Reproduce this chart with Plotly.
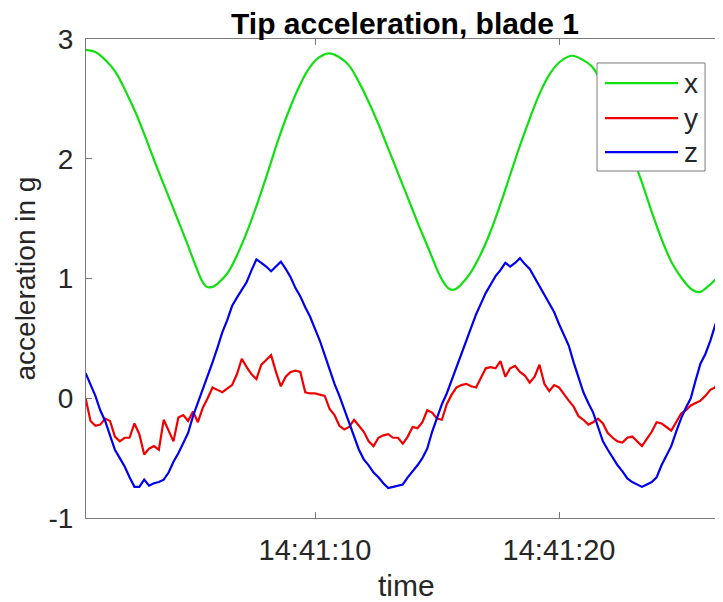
import pandas as pd
import plotly.graph_objects as go

# ---------------- data (seconds after 14:41:00) ----------------
base_time = "2018-01-01 14:41:00"

x_t = [0.61, 1.02, 1.43, 1.84, 2.25, 2.66, 3.07, 3.48, 3.89, 4.30, 4.71, 5.12, 5.37, 5.57, 5.80,
       6.02, 6.43, 6.84, 7.25, 7.66, 8.07, 8.48, 8.89, 9.30, 9.71, 10.12, 10.57,
       10.98, 11.39, 11.80, 12.21, 12.62, 13.03, 13.44, 13.85, 14.26, 14.67, 15.08, 15.33, 15.53, 15.75,
       15.94, 16.35, 16.76, 17.17, 17.58, 17.99, 18.40, 18.81, 19.22, 19.63, 20.04, 20.53,
       20.94, 21.35, 21.76, 22.17, 22.58, 22.99, 23.40, 23.81, 24.22, 24.63, 25.04, 25.37, 25.61, 25.82,
       26.02, 26.35, 26.68]
x_val = [2.91, 2.89, 2.82, 2.72, 2.56, 2.38, 2.17, 1.95, 1.74, 1.53, 1.32, 1.10, 0.98, 0.93, 0.93,
         0.96, 1.05, 1.21, 1.41, 1.64, 1.89, 2.15, 2.38, 2.58, 2.74, 2.84, 2.88,
         2.85, 2.78, 2.64, 2.47, 2.28, 2.07, 1.86, 1.65, 1.44, 1.24, 1.04, 0.95, 0.91, 0.91,
         0.94, 1.04, 1.19, 1.38, 1.61, 1.86, 2.11, 2.34, 2.55, 2.71, 2.81, 2.86,
         2.83, 2.77, 2.63, 2.45, 2.25, 2.03, 1.80, 1.55, 1.32, 1.13, 1.00, 0.92, 0.89, 0.89,
         0.92, 0.98, 1.06]

# y and z sampled every 0.2 s starting at 0.6 s
yz_start = 0.6
yz_step = 0.2
y_val = [0.00, -0.19, -0.23, -0.22, -0.17, -0.19, -0.32, -0.36, -0.33, -0.33,
         -0.21, -0.30, -0.47, -0.42, -0.40, -0.43, -0.18, -0.27, -0.36, -0.16,
         -0.14, -0.19, -0.11, -0.20, -0.08, 0.00, 0.09, 0.07, 0.05, 0.08,
         0.11, 0.20, 0.33, 0.26, 0.20, 0.16, 0.28, 0.32, 0.36, 0.22,
         0.10, 0.18, 0.22, 0.23, 0.22, 0.05, 0.04, 0.04, 0.03, 0.02,
         -0.09, -0.14, -0.23, -0.26, -0.24, -0.18, -0.23, -0.28, -0.36, -0.40,
         -0.33, -0.31, -0.30, -0.33, -0.33, -0.38, -0.32, -0.24, -0.25, -0.20,
         -0.10, -0.12, -0.17, -0.18, -0.05, 0.03, 0.09, 0.11, 0.12, 0.10,
         0.09, 0.17, 0.25, 0.26, 0.25, 0.31, 0.18, 0.25, 0.27, 0.22,
         0.19, 0.13, 0.18, 0.28, 0.12, 0.06, 0.11, 0.09, 0.03, -0.02,
         -0.07, -0.15, -0.18, -0.22, -0.20, -0.17, -0.21, -0.29, -0.33, -0.36,
         -0.37, -0.33, -0.32, -0.36, -0.40, -0.34, -0.28, -0.20, -0.21, -0.24,
         -0.27, -0.20, -0.13, -0.10, -0.06, -0.04, -0.02, 0.02, 0.07, 0.09,
         0.20, 0.26]
z_val = [0.21, 0.12, 0.02, -0.10, -0.19, -0.31, -0.43, -0.50, -0.57, -0.66,
         -0.74, -0.74, -0.68, -0.73, -0.71, -0.70, -0.68, -0.62, -0.53, -0.46,
         -0.38, -0.29, -0.15, -0.04, 0.08, 0.18, 0.30, 0.42, 0.55, 0.65,
         0.77, 0.84, 0.91, 0.97, 1.07, 1.16, 1.13, 1.10, 1.06, 1.10,
         1.14, 1.08, 1.01, 0.92, 0.85, 0.76, 0.68, 0.58, 0.48, 0.36,
         0.23, 0.12, 0.02, -0.09, -0.20, -0.32, -0.43, -0.51, -0.56, -0.62,
         -0.66, -0.71, -0.75, -0.74, -0.73, -0.72, -0.66, -0.61, -0.56, -0.50,
         -0.42, -0.28, -0.16, -0.05, 0.04, 0.15, 0.26, 0.37, 0.47, 0.58,
         0.70, 0.79, 0.88, 0.95, 1.02, 1.07, 1.13, 1.10, 1.13, 1.17,
         1.12, 1.08, 1.01, 0.94, 0.87, 0.79, 0.72, 0.62, 0.53, 0.44,
         0.30, 0.18, 0.05, -0.04, -0.12, -0.24, -0.36, -0.43, -0.50, -0.56,
         -0.61, -0.67, -0.70, -0.72, -0.74, -0.72, -0.70, -0.66, -0.56, -0.48,
         -0.40, -0.28, -0.17, -0.08, 0.00, 0.15, 0.29, 0.37, 0.48, 0.61,
         0.72, 0.80]

series_names = ["x", "y", "z"]
series_colors = ["#10e010", "#f00000", "#0000f0"]
x_range_s = [0.615, 26.68]
x_tick_s = [10, 20]
x_tick_text = ["14:41:10", "14:41:20"]
y_ticks = [-1, 0, 1, 2, 3]
y_tick_text = ["-1", "0", "1", "2", "3"]

# ---------------- build ----------------
base = pd.Timestamp(base_time)
to_dt = lambda secs: [base + pd.to_timedelta(s, unit="s") for s in secs]
t_yz = [yz_start + yz_step * i for i in range(len(z_val))]

FONT = "Liberation Sans, Arial, Helvetica, sans-serif"
AX = "#262626"
LINE = "#7a7a7a"

fig = go.Figure()
for name, tt, vv, col, shp in [("x", x_t, x_val, series_colors[0], "spline"),
                               ("y", t_yz, y_val, series_colors[1], "linear"),
                               ("z", t_yz, z_val, series_colors[2], "linear")]:
    fig.add_trace(go.Scatter(x=to_dt(tt), y=vv, mode="lines", name=name,
                             line=dict(color=col, width=2.2, shape=shp), showlegend=False))

# page body has an 8px margin, so the figure is 8px smaller than the window
fig.update_layout(
    width=715, height=594,
    margin=dict(l=78, r=1, t=31, b=84, autoexpand=False),
    paper_bgcolor="white", plot_bgcolor="white",
    font=dict(family=FONT, color=AX, size=27),
    title=dict(text="<b>Tip acceleration, blade 1</b>", x=(405 - 8) / 715, xanchor="center",
               y=1 - 15 / 594, yanchor="middle", yref="container",
               font=dict(family=FONT, size=30, color="#000000")),
)
fig.update_xaxes(
    range=to_dt(x_range_s), tickvals=to_dt(x_tick_s), ticktext=x_tick_text,
    showline=True, linecolor=LINE, linewidth=1, mirror="ticks",
    ticks="inside", ticklen=6, tickcolor=LINE, showgrid=False, zeroline=False,
    tickfont=dict(size=29, color=AX), ticklabelstandoff=6, automargin=False,
)
fig.update_yaxes(
    range=[-1, 3], tickvals=y_ticks, ticktext=y_tick_text,
    showline=True, linecolor=LINE, linewidth=1, mirror="ticks",
    ticks="inside", ticklen=6, tickcolor=LINE, showgrid=False, zeroline=False,
    tickfont=dict(size=28, color=AX), ticklabelstandoff=6, automargin=False,
)

# axis titles
fig.add_annotation(text="time", xref="paper", yref="paper", x=(406 - 86) / 636,
                   y=(518 - 585) / 479, xanchor="center", yanchor="middle", showarrow=False,
                   font=dict(family=FONT, size=30, color=AX))
fig.add_annotation(text="acceleration in g", xref="paper", yref="paper", x=(25 - 86) / 636,
                   y=0.5, xanchor="center", yanchor="middle", textangle=-90, showarrow=False,
                   font=dict(family=FONT, size=28, color=AX))

# legend box (MATLAB style) in paper coordinates
lx0, lx1, ly0, ly1 = 0.8035, 0.9733, 0.7244, 0.9499
fig.add_shape(type="rect", xref="paper", yref="paper", x0=lx0, x1=lx1, y0=ly0, y1=ly1,
              line=dict(color=LINE, width=1), fillcolor="white", layer="above")
row_y = [0.908, 0.835, 0.764]
for name, col, ry in zip(series_names, series_colors, row_y):
    fig.add_shape(type="line", xref="paper", yref="paper", x0=0.816, x1=0.931, y0=ry, y1=ry,
                  line=dict(color=col, width=2.2), layer="above")
    fig.add_annotation(text=name, xref="paper", yref="paper", x=0.937, y=ry,
                       xanchor="left", yanchor="middle", showarrow=False,
                       font=dict(family=FONT, size=28, color=AX))

fig.write_html("out.html")
